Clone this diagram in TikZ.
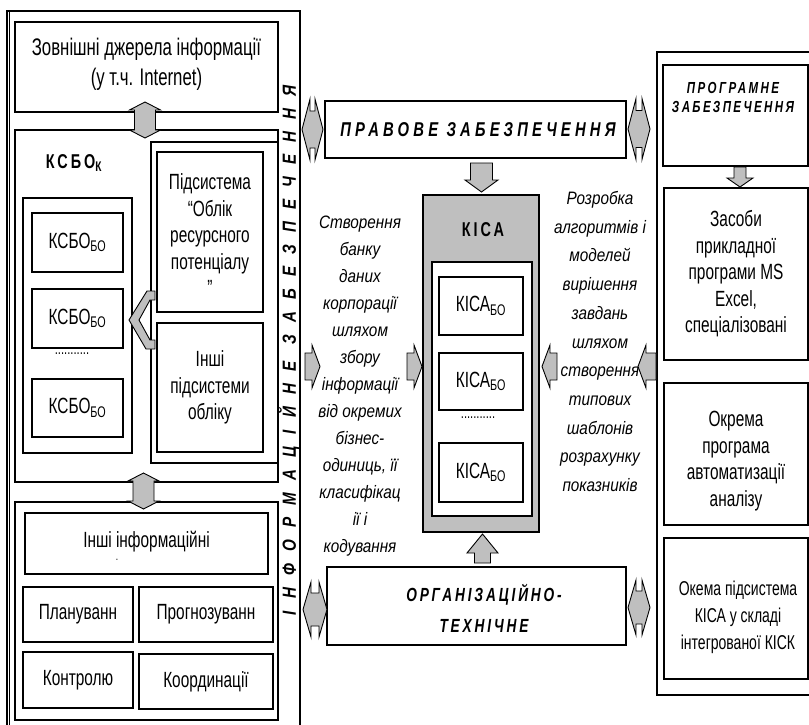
\documentclass[tikz,border=0pt]{standalone}
\usepackage{fontspec}
\setmainfont{Liberation Sans}[FakeStretch=0.7]
\newfontfamily\itfont{Liberation Sans}[FakeStretch=0.85]
\newfontfamily\bsfont{Liberation Sans}[FakeStretch=0.74,LetterSpace=21]
\newfontfamily\bsfontb{Liberation Sans}[FakeStretch=0.72,LetterSpace=15]
\newfontfamily\vfont{Liberation Sans}[FakeStretch=0.8,LetterSpace=64]
\tikzset{
  box/.style={draw, line width=1.1pt, inner sep=0pt, align=center, fill=white},
  frame/.style={line width=1.1pt},
  arr/.style={draw, line width=0.9pt, fill=black!25, line join=miter},
  txt/.style={font=\fontsize{22}{26.5}\selectfont, align=center, inner sep=0pt},
  bigtxt/.style={font=\fontsize{24}{30}\selectfont, align=center, inner sep=0pt},
  ittxt/.style={align=center, inner sep=0pt},
  bold/.style={align=center, inner sep=0pt},
  pics/dblarrow/.style args={#1/#2/#3/#4}{code={
    \draw[arr] (-#1/2,0) -- (-#1/2+#4,-#2/2) -- (-#1/2+#4,-#3/2) -- (#1/2-#4,-#3/2) -- (#1/2-#4,-#2/2)
      -- (#1/2,0) -- (#1/2-#4,#2/2) -- (#1/2-#4,#3/2) -- (-#1/2+#4,#3/2) -- (-#1/2+#4,#2/2) -- cycle;
  }},
  pics/snglarrow/.style args={#1/#2/#3/#4}{code={
    \draw[arr] (-#1/2,-#3/2) -- (#1/2-#4,-#3/2) -- (#1/2-#4,-#2/2) -- (#1/2,0) -- (#1/2-#4,#2/2)
      -- (#1/2-#4,#3/2) -- (-#1/2,#3/2) -- cycle;
  }},
}
\begin{document}
\begin{tikzpicture}[x=1pt,y=-1pt]
\useasboundingbox (0,0) rectangle (809,725);

% ---------- left frame ----------
\draw[frame] (7,740) -- (7,11) -- (300,11) -- (300,740);
\draw[frame] (9.8,740) -- (9.8,11);
\node[rotate=90, inner sep=0pt, font=\vfont\bfseries\itshape\fontsize{19}{22}\selectfont] (vtext) at (289,350) {ІНФОРМАЦІЙНЕ ЗАБЕЗПЕЧЕННЯ};

\node[box, minimum width=263, minimum height=90] (zovn) at (146.5,67) {};
\node[bigtxt] (zovnt) at (146.5,64) {Зовнішні джерела інформації\\(у т.ч. Internet)};

\node[box, minimum width=263, minimum height=352] (ksbok) at (146.5,306) {};
\node[bold, font=\bsfontb\bfseries\fontsize{20}{22}\selectfont] (ksbolab) at (74,163) {КСБО\textsubscript{К}};
\node[box, minimum width=109, minimum height=255] (lgroup) at (77.5,325.5) {};
\node[box, txt, minimum width=91, minimum height=59] (ksbo1) at (77.5,242.5) {КСБО\textsubscript{БО}};
\node[box, txt, minimum width=91, minimum height=59] (ksbo2) at (77.5,318.5) {КСБО\textsubscript{БО}};
\node[txt, font=\fontsize{16}{18}\selectfont] (ksbodots) at (72,354) {...........};
\node[box, txt, minimum width=91, minimum height=58] (ksbo3) at (77.5,408) {КСБО\textsubscript{БО}};

\node[box, minimum width=127, minimum height=321] (rgroup) at (214.5,302.5) {};
\node[box, minimum width=106, minimum height=160] (pids) at (210,232) {};
\node[txt] (pidst) at (210,235) {Підсистема\\“Облік\\ресурсного\\потенціалу\\”};
\node[box, txt, minimum width=106, minimum height=129] (inshi) at (210,387.5) {Інші\\підсистеми\\обліку};

\draw[arr] (155,291) -- (147,291) -- (129,320) -- (146,349) -- (155,349) -- (155,340) -- (150,340) -- (139,320) -- (150,300) -- (155,300) -- cycle;

\node[box, minimum width=263, minimum height=218] (lower) at (146.5,611) {};
\node[box, minimum width=243, minimum height=61] (inf) at (146.5,543.5) {};
\node[txt] (inft) at (146.5,542) {Інші інформаційні};
\node[txt, font=\fontsize{12}{14}\selectfont] (infdot) at (117,560) {.};
\node[box, txt, minimum width=110, minimum height=55] (plan) at (78,614.5) {Плануванн};
\node[box, txt, minimum width=134, minimum height=55] (progn) at (206,614.5) {Прогнозуванн};
\node[box, txt, minimum width=110, minimum height=56] (kontr) at (78,680) {Контролю};
\node[box, txt, minimum width=134, minimum height=55] (koord) at (206,681.5) {Координації};

% ---------- centre ----------
\node[box, minimum width=301, minimum height=57] (pravo) at (475.5,129.5) {};
\node[bold, font=\bsfont\bfseries\itshape\fontsize{20}{22}\selectfont] (pravot) at (478,129.5) {ПРАВОВЕ ЗАБЕЗПЕЧЕННЯ};
\node[box, fill=black!25, minimum width=116, minimum height=337] (kica) at (481,363.5) {};
\node[bold, font=\bsfontb\bfseries\fontsize{20}{22}\selectfont] (kicalab) at (483,230) {КІСА};
\node[box, minimum width=100, minimum height=254] (kicain) at (482,389) {};
\node[box, txt, minimum width=84, minimum height=58] (k1) at (481,306) {КІСА\textsubscript{БО}};
\node[box, txt, minimum width=84, minimum height=57] (k2) at (481,381.5) {КІСА\textsubscript{БО}};
\node[txt, font=\fontsize{16}{18}\selectfont] (kdots) at (478,418) {...........};
\node[box, txt, minimum width=84, minimum height=59] (k3) at (481,472.5) {КІСА\textsubscript{БО}};
\node[box, minimum width=299, minimum height=78] (org) at (476.5,606) {};
\node[bold, font=\bsfontb\bfseries\itshape\fontsize{19}{31}\selectfont] (orgt) at (484,608) {ОРГАНІЗАЦІЙНО-\\ТЕХНІЧНЕ};

\node[ittxt, font=\itfont\itshape\fontsize{18}{27}\selectfont] (ltext) at (360,386) {Створення\\банку\\даних\\корпорації\\шляхом\\збору\\інформації\\від окремих\\бізнес-\\одиниць, її\\класифікац\\ії і\\кодування};
\node[ittxt, font=\itfont\itshape\fontsize{18}{28.7}\selectfont] (rtext) at (600,341.5) {Розробка\\алгоритмів і\\моделей\\вирішення\\завдань\\шляхом\\створення\\типових\\шаблонів\\розрахунку\\показників};

% ---------- right ----------
\draw[frame] (815,52) -- (657,52) -- (657,695) -- (815,695);
\node[box, minimum width=145, minimum height=101] (prog) at (735.5,115.5) {};
\node[bold, font=\bsfontb\bfseries\itshape\fontsize{16}{19}\selectfont] (progt) at (733,97) {ПРОГРАМНЕ\\ЗАБЕЗПЕЧЕННЯ};
\node[box, txt, minimum width=144, minimum height=172] (zasoby) at (736,274) {Засоби\\прикладної\\програми MS\\Excel,\\спеціалізовані};
\node[box, minimum width=144, minimum height=142] (okrema) at (736,454) {};
\node[txt] (okremat) at (736,461) {Окрема\\програма\\автоматизації\\аналізу};
\node[box, minimum width=144, minimum height=141] (okema) at (736,608.5) {};
\node[txt, font=\fontsize{20}{27}\selectfont] (okemat) at (738,617) {Окема підсистема\\КІСА у складі\\інтегрованої КІСК};

% ---------- block arrows ----------
\pic[rotate=90] at (143.5,491) {dblarrow=36/31/21/8};
\pic[rotate=90] at (145,120) {dblarrow=36/31/21/8};
\pic at (312.5,129.5) {dblarrow=21/61/37/8};
\pic at (639,129) {dblarrow=22/61/37/8};
\pic at (315,609.5) {dblarrow=24/55/33/8};
\pic at (639,607.5) {dblarrow=22/55/33/8};
\pic[rotate=-90] at (481.5,177.5) {snglarrow=29/33/22/12};
\pic[rotate=90] at (482.5,548.5) {snglarrow=29/31/16/19};
\pic[rotate=-90] at (740,177) {snglarrow=20/26/12/9};
\pic at (312.5,366.5) {snglarrow=15/43/27/8};
\pic at (414.5,366.5) {snglarrow=15/43/27/8};
\pic[rotate=180] at (549.5,366.5) {snglarrow=15/43/27/8};
\pic[rotate=180] at (647,366.5) {snglarrow=18/43/27/8};
\end{tikzpicture}
\end{document}
